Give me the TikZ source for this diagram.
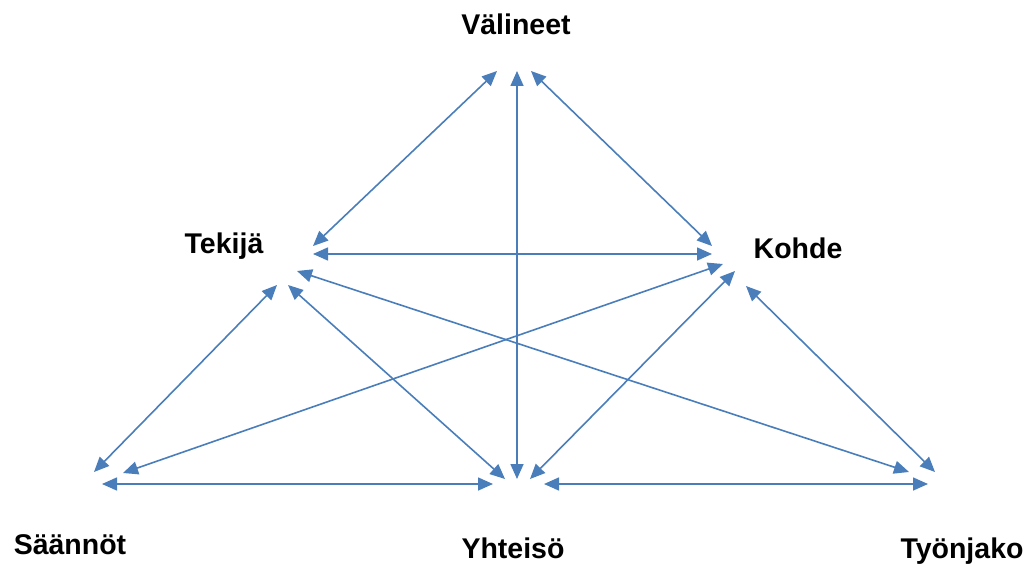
\documentclass[tikz,border=0pt]{standalone}
\usepackage{fontspec}
\setmainfont{Liberation Sans}
\usetikzlibrary{arrows.meta, positioning}
\definecolor{linkblue}{HTML}{4A7EBB}

\begin{document}
\begin{tikzpicture}[
    x=1pt, y=-1pt,
    lbl/.style={font=\fontsize{28.5}{33}\selectfont\bfseries, anchor=base, inner sep=0pt},
    link/.style={{Triangle[length=15pt,width=13pt]}-{Triangle[length=15pt,width=13pt]}, line width=1.6pt, linkblue}
]
\useasboundingbox (0,0) rectangle (1027,567);

% Labels positioned explicitly
\node[lbl] (valineet) at (516,35) {Välineet};
\node[lbl] (tekija) at (224,253) {Tekijä};
\node[lbl] (kohde) at (798,258) {Kohde};
\node[lbl] (saannot) at (70,554) {Säännöt};
\node[lbl] (yhteiso) at (513,558) {Yhteisö};
\node[lbl] (tyonjako) at (962,558) {Työnjako};

% Arrow ends around Välineet
\coordinate (v-t) at (497,71);
\coordinate (v-y) at (517,71);
\coordinate (v-k) at (531,71);
% Arrow ends around Tekijä
\coordinate (t-v) at (313,246);
\coordinate (t-k) at (313,254);
\coordinate (t-ty) at (297,271);
\coordinate (t-s) at (277,285);
\coordinate (t-y) at (288,285);
% Arrow ends around Kohde
\coordinate (k-v) at (712,246);
\coordinate (k-t) at (712,254);
\coordinate (k-s) at (723,264);
\coordinate (k-y) at (735,271);
\coordinate (k-ty) at (746,286);
% Arrow ends around Säännöt
\coordinate (s-t) at (94,472);
\coordinate (s-k) at (123,473);
\coordinate (s-y) at (102,484);
% Arrow ends around Yhteisö
\coordinate (y-t) at (505,479);
\coordinate (y-v) at (517,479);
\coordinate (y-k) at (530,479);
\coordinate (y-s) at (493,484);
\coordinate (y-ty) at (544,484);
% Arrow ends around Työnjako
\coordinate (ty-t) at (909,472);
\coordinate (ty-k) at (935,472);
\coordinate (ty-y) at (928,484);

% Upper triangle
\draw[link] (v-t) -- (t-v);
\draw[link] (v-k) -- (k-v);
\draw[link] (v-y) -- (y-v);
\draw[link] (t-k) -- (k-t);

% Links down to the base
\draw[link] (t-s) -- (s-t);
\draw[link] (t-y) -- (y-t);
\draw[link] (t-ty) -- (ty-t);
\draw[link] (k-s) -- (s-k);
\draw[link] (k-y) -- (y-k);
\draw[link] (k-ty) -- (ty-k);

% Base line
\draw[link] (s-y) -- (y-s);
\draw[link] (y-ty) -- (ty-y);
\end{tikzpicture}
\end{document}
